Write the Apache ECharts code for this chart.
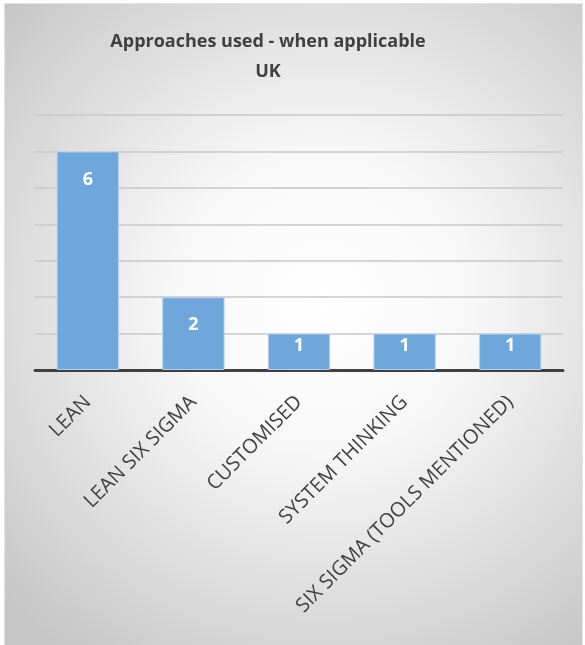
<!DOCTYPE html>
<html>
<head>
<meta charset="utf-8">
<script src="https://cdn.jsdelivr.net/npm/echarts@6/dist/echarts.min.js"></script>
<style>
  html, body { margin: 0; padding: 0; background: #ffffff; }
  #chart { width: 585px; height: 645px; }
</style>
</head>
<body>
<div id="chart"></div>
<script>
// Approaches in use (UK), counts per approach
const categories = ['LEAN', 'LEAN SIX SIGMA', 'CUSTOMISED', 'SYSTEM THINKING', 'SIX SIGMA (TOOLS MENTIONED)'];
const counts = [6, 2, 1, 1, 1];
const titleLines = ['Approaches used - when applicable', 'UK'];

const chart = echarts.init(document.getElementById('chart'), null, { renderer: 'canvas' });

const FONT = '"Open Sans", "Noto Sans", sans-serif';

// short bars get their label pulled closer to the top edge
const barData = counts.map(v => ({
  value: v,
  label: { distance: v >= 2 ? 19 : 3 }
}));

chart.setOption({
  backgroundColor: '#ffffff',
  animation: false,
  graphic: [{
    type: 'rect',
    z: -10,
    silent: true,
    shape: { x: 4.5, y: 3.5, width: 578, height: 660 },
    style: {
      fill: {
        type: 'radial', x: 0.55, y: 0.45, r: 0.75,
        colorStops: [
          { offset: 0, color: '#ffffff' },
          { offset: 0.35, color: '#f7f7f7' },
          { offset: 1, color: '#c6c6c6' }
        ]
      },
      stroke: '#e4e4e4',
      lineWidth: 1
    }
  }, {
    type: 'text',
    silent: true,
    x: 268,
    y: 27,
    style: {
      text: titleLines.join('\n'),
      align: 'center',
      verticalAlign: 'top',
      font: 'bold 18px ' + FONT,
      lineHeight: 30,
      fill: '#404040'
    }
  }],
  grid: { left: 35, right: 22, top: 115, bottom: 275, containLabel: false },
  xAxis: {
    type: 'category',
    data: categories,
    axisLine: { show: true, lineStyle: { color: '#404040', width: 3 } },
    axisTick: { show: false },
    axisLabel: {
      rotate: 45,
      interval: 0,
      margin: 29,
      fontFamily: FONT,
      fontSize: 20,
      color: '#404040'
    }
  },
  yAxis: {
    type: 'value',
    min: 0,
    max: 7,
    interval: 1,
    axisLine: { show: false },
    axisTick: { show: false },
    axisLabel: { show: false },
    splitLine: { lineStyle: { color: '#c8c8c8', width: 1.5 } }
  },
  series: [{
    type: 'bar',
    data: barData,
    barWidth: '59%',
    itemStyle: {
      color: '#6fa7da',
      borderColor: '#b3d1ee',
      borderWidth: 1
    },
    label: {
      show: true,
      position: 'insideTop',
      fontFamily: FONT,
      fontSize: 18,
      fontWeight: 'bold',
      color: '#ffffff'
    }
  }]
});
</script>
</body>
</html>
